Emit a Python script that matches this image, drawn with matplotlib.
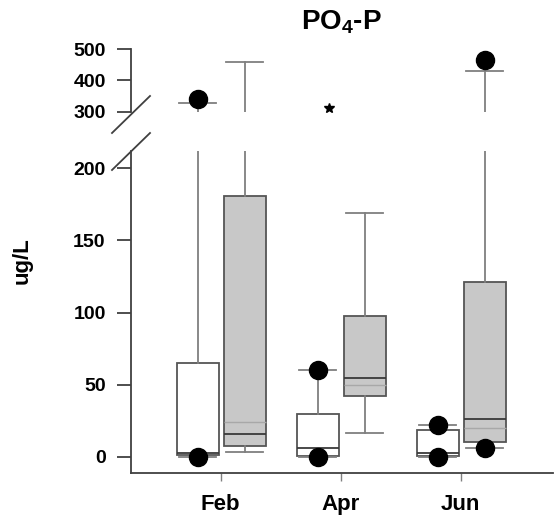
import matplotlib
matplotlib.use('Agg')
import matplotlib.pyplot as plt
from matplotlib.lines import Line2D

plt.rcParams['font.family'] = ['Liberation Sans', 'DejaVu Sans']
plt.rcParams['font.weight'] = 'bold'
plt.rcParams['mathtext.default'] = 'regular'

months = ['Feb', 'Apr', 'Jun']

# open (white) boxes
open_q1 = [1.5, 1.0, 0.5]
open_med = [2.5, 6, 2.5]
open_q3 = [65, 29.5, 18.7]
open_lo = [0, 0, 0]
open_hi = [329, 60, 22]
open_out = [[0, 340], [0, 60], [0, 22]]

# shaded (grey) boxes
shade_q1 = [7.5, 42, 10.6]
shade_med = [16, 55, 26]
shade_mean = [24, 50, 20]
shade_q3 = [181, 98, 121]
shade_lo = [3.7, 16.4, 6]
shade_hi = [458, 169, 431]
shade_out = [[], [], [6, 466]]

# extreme value marked with a star
star_month = 'Apr'
star_val = 311

open_stats = [dict(q1=a, med=b, q3=c, whislo=d, whishi=e, fliers=f, mean=b)
              for a, b, c, d, e, f in zip(open_q1, open_med, open_q3, open_lo, open_hi, open_out)]
shade_stats = [dict(q1=a, med=b, mean=m, q3=c, whislo=d, whishi=e, fliers=f)
               for a, b, m, c, d, e, f in zip(shade_q1, shade_med, shade_mean, shade_q3,
                                              shade_lo, shade_hi, shade_out)]

pos = list(range(1, len(months) + 1))
lw = 1.3
edge = '#555555'
wcol = '#7f7f7f'


def draw(ax):
    common = dict(widths=0.35, capwidths=0.31, patch_artist=True, manage_ticks=False,
                  medianprops=dict(color='#3a3a3a', lw=lw),
                  whiskerprops=dict(color=wcol, lw=lw),
                  capprops=dict(color=wcol, lw=lw),
                  flierprops=dict(marker='o', mfc='black', mec='black', ms=13, zorder=5))
    ax.bxp(open_stats, positions=[p - 0.19 for p in pos],
           boxprops=dict(facecolor='white', edgecolor=edge, lw=lw), **common)
    ax.bxp(shade_stats, positions=[p + 0.2 for p in pos], showmeans=True, meanline=True,
           meanprops=dict(color='#a8a8a8', ls='-', lw=1.0),
           boxprops=dict(facecolor='#c8c8c8', edgecolor=edge, lw=lw), **common)


fig = plt.figure(figsize=(5.55, 5.18), dpi=100)
ax_lo = fig.add_axes([0.2355, 0.0869, 0.761, 0.6216])
ax_hi = fig.add_axes([0.2355, 0.7844, 0.761, 0.1204])

for ax in (ax_lo, ax_hi):
    draw(ax)
    ax.set_xlim(0.25, 3.77)
    for s in ('top', 'right'):
        ax.spines[s].set_visible(False)
    ax.spines['left'].set_color('#404040')
    ax.spines['left'].set_linewidth(lw)
    ax.tick_params(axis='y', length=10, width=lw, color='#404040', pad=8, labelsize=14)

ax_hi.plot(months.index(star_month) + 1 - 0.1, star_val, marker='*', color='black',
           ms=7, ls='none')

ax_lo.set_ylim(-11.1, 212)
ax_lo.set_yticks([0, 50, 100, 150, 200])
ax_lo.spines['bottom'].set_color('#404040')
ax_lo.spines['bottom'].set_linewidth(lw)
ax_lo.set_xticks(pos)
ax_lo.set_xticklabels(months)
ax_lo.tick_params(axis='x', length=6, width=1, color='#808080', pad=9, labelsize=16)
ax_lo.set_ylabel('ug/L', fontsize=16, fontweight='bold')
ax_lo.yaxis.set_label_coords(-0.232, 0.661)

ax_hi.set_ylim(300, 500)
ax_hi.set_yticks([300, 400, 500])
ax_hi.spines['bottom'].set_visible(False)
ax_hi.set_xticks([])

# axis break marks
for y0, y1 in ((133, 96), (170, 133)):
    fig.add_artist(Line2D([112 / 555, 150 / 555], [1 - y0 / 518, 1 - y1 / 518],
                          color='#404040', lw=lw))

fig.text(0.615, 0.958, 'PO$_4$-P', ha='center', va='center', fontsize=20, fontweight='bold')

fig.savefig('out.png', dpi=100)
